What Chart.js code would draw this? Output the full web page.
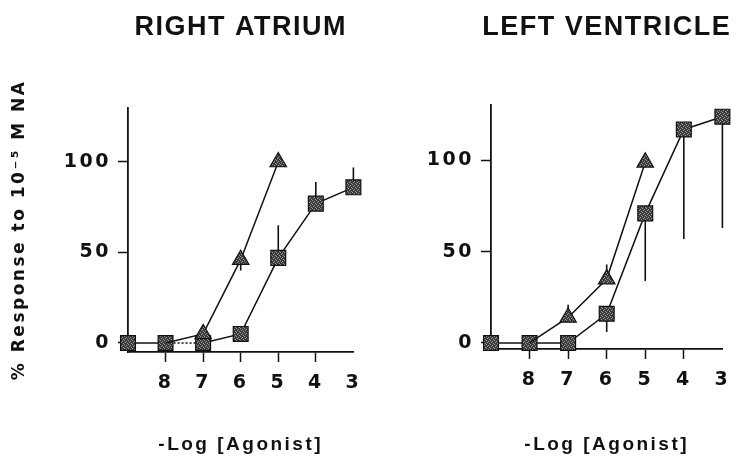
<!DOCTYPE html>
<html>
<head>
<meta charset="utf-8">
<script src="https://cdn.jsdelivr.net/npm/chart.js@4.4.1/dist/chart.umd.min.js"></script>
<style>
  body { margin: 0; background: #fff; }
  canvas { position: absolute; top: 0; }
</style>
</head>
<body>
<canvas id="atriumChart" width="370" height="457" style="left:0"></canvas>
<canvas id="ventricleChart" width="369" height="457" style="left:370px"></canvas>
<script>
// -log [agonist], 9 = no agonist (baseline)
const doses = [9, 8, 7, 6, 5, 4, 3];
const triDoses = [8, 7, 6, 5];
const xTicks = [8, 7, 6, 5, 4, 3];
const yTicks = [0, 50, 100];

// right atrium
const atriumSquare = [0, 0, 0, 5, 47, 77, 86];
const atriumSquareErr = [null, null, null, null, 65, 89, 97];
const atriumTri = [0, 5, 46, 100];
const atriumTriErr = [null, null, 40, null];

// left ventricle
const ventSquare = [0, 0, 0, 16, 71, 117, 124];
const ventSquareErr = [null, null, null, 6, 34, 57, 63];
const ventTri = [0, 14, 35, 99];
const ventTriErr = [null, 21, 43, null];

const INK = '#111';

// speckled grey fill for the markers
function stipple() {
    const c = document.createElement('canvas');
    c.width = 4; c.height = 4;
    const g = c.getContext('2d');
    g.fillStyle = '#3a3a3a';
    g.fillRect(0, 0, 4, 4);
    g.fillStyle = '#9c9c9c';
    g.fillRect(0, 0, 1, 1); g.fillRect(2, 1, 1, 1);
    g.fillRect(1, 2, 1, 1); g.fillRect(3, 3, 1, 1);
    return g.createPattern(c, 'repeat');
}
const fill = stipple();

function pts(xs, ys) {
    return xs.map((x, i) => ({ x: x, y: ys[i] }));
}

// one-sided SEM bars, drawn under the markers
const errorBars = {
    id: 'errorBars',
    beforeDatasetsDraw(chart) {
        const { ctx, scales } = chart;
        ctx.save();
        ctx.strokeStyle = INK;
        ctx.lineWidth = 1.6;
        chart.data.datasets.forEach((ds, i) => {
            if (!ds.errorBars) return;
            const meta = chart.getDatasetMeta(i);
            ds.errorBars.forEach((v, j) => {
                if (v === null) return;
                const p = meta.data[j];
                ctx.beginPath();
                ctx.moveTo(p.x, p.y);
                ctx.lineTo(p.x, scales.y.getPixelForValue(v));
                ctx.stroke();
            });
        });
        ctx.restore();
    }
};

// wide lettering for axis text
const spacing = {
    id: 'spacing',
    beforeDraw(chart) { chart.ctx.letterSpacing = '2.5px'; }
};

const panelTitle = {
    id: 'panelTitle',
    afterDraw(chart, args, opts) {
        const { ctx, chartArea } = chart;
        ctx.save();
        ctx.font = 'bold 27px "Liberation Sans", Arial, sans-serif';
        ctx.letterSpacing = '1.5px';
        ctx.fillStyle = INK;
        ctx.textAlign = 'center';
        ctx.textBaseline = 'alphabetic';
        ctx.fillText(opts.text, (chartArea.left + chartArea.right) / 2, 35);
        ctx.restore();
    }
};

function makeChart(id, cfg) {
    const tickFont = { family: 'DejaVu Sans', weight: 'bold', size: 19 };
    return new Chart(document.getElementById(id), {
        type: 'line',
        data: {
            datasets: [
                {
                    data: pts(triDoses, cfg.tri),
                    errorBars: cfg.triErr,
                    pointStyle: 'triangle',
                    pointRadius: [0, 9.5, 9.5, 9.5],
                    backgroundColor: fill,
                    borderColor: INK,
                    borderWidth: 1.5,
                    pointBorderWidth: 1.2,
                    tension: 0,
                    clip: false,
                    order: 0
                },
                {
                    data: pts(doses, cfg.square),
                    errorBars: cfg.squareErr,
                    pointStyle: 'rect',
                    pointRadius: 10.5,
                    backgroundColor: fill,
                    borderColor: INK,
                    borderWidth: 1.5,
                    pointBorderWidth: 1.2,
                    tension: 0,
                    clip: false,
                    order: 1,
                    segment: {
                        borderDash: ctx => (cfg.dashed && ctx.p0DataIndex === 1) ? [2, 2] : undefined
                    }
                }
            ]
        },
        options: {
            responsive: false,
            animation: false,
            events: [],
            layout: { padding: cfg.padding },
            plugins: {
                legend: { display: false },
                tooltip: { enabled: false },
                panelTitle: { text: cfg.title }
            },
            scales: {
                x: {
                    type: 'linear',
                    reverse: true,
                    min: 3,
                    max: 9,
                    afterBuildTicks: s => { s.ticks = doses.map(v => ({ value: v })); },
                    afterFit: s => { s.height = cfg.xHeight; },
                    ticks: {
                        callback: v => xTicks.includes(v) ? String(v) : '',
                        font: tickFont,
                        color: INK,
                        padding: 10,
                        maxRotation: 0,
                        autoSkip: false
                    },
                    grid: {
                        drawOnChartArea: false,
                        tickLength: 10,
                        tickWidth: 1.5,
                        tickColor: c => (c.tick && (c.tick.value === 9 || c.tick.value === 3)) ? 'rgba(0,0,0,0)' : INK
                    },
                    border: { color: INK, width: 1.8 },
                    title: {
                        display: true,
                        text: '-Log [Agonist]',
                        color: INK,
                        font: { family: 'Liberation Sans', weight: 'bold', size: 19 },
                        padding: { top: 0, bottom: 1 }
                    }
                },
                y: {
                    min: cfg.yMin,
                    max: cfg.yMax,
                    afterBuildTicks: s => { s.ticks = yTicks.map(v => ({ value: v })); },
                    afterFit: s => { s.width = cfg.yWidth; },
                    ticks: { font: tickFont, color: INK, padding: 7 },
                    grid: { drawOnChartArea: false, tickLength: 10, tickWidth: 1.5, tickColor: INK },
                    border: { color: INK, width: 1.8 },
                    title: {
                        display: cfg.yTitle,
                        text: '% Response to 10⁻⁵ M NA',
                        color: INK,
                        font: { family: 'DejaVu Sans', weight: 'bold', size: 17 },
                        padding: { top: 9, bottom: 0 }
                    }
                }
            }
        },
        plugins: [spacing, errorBars, panelTitle]
    });
}

makeChart('atriumChart', {
    title: 'RIGHT ATRIUM',
    square: atriumSquare, squareErr: atriumSquareErr,
    tri: atriumTri, triErr: atriumTriErr,
    dashed: true,
    padding: { top: 107.7, right: 11, left: 0, bottom: 0 },
    yWidth: 128, xHeight: 105, yMin: -5, yMax: 130, yTitle: true
});

makeChart('ventricleChart', {
    title: 'LEFT VENTRICLE',
    square: ventSquare, squareErr: ventSquareErr,
    tri: ventTri, triErr: ventTriErr,
    dashed: false,
    padding: { top: 104.8, right: 13, left: 0, bottom: 0 },
    yWidth: 121, xHeight: 108, yMin: -3.3, yMax: 130.5, yTitle: false
});
</script>
</body>
</html>
